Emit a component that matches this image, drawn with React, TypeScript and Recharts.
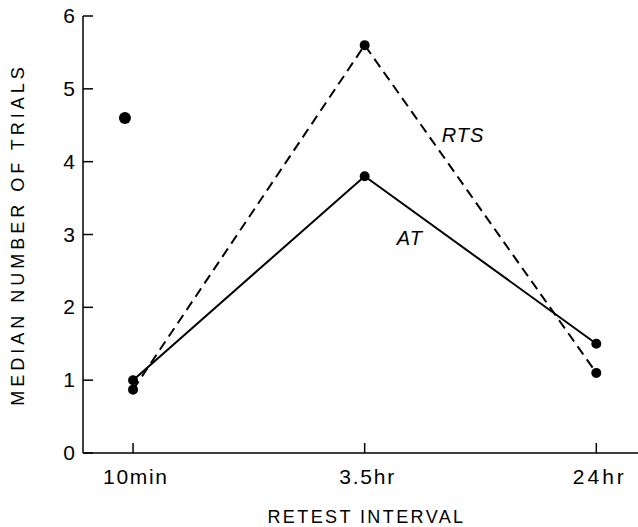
import React from "react";
import {
  ComposedChart,
  Line,
  Scatter,
  XAxis,
  YAxis,
  ReferenceDot,
} from "recharts";

// retest intervals (x positions 0, 1, 2)
const intervals = ["10min", "3.5hr", "24hr"];
const atValues = [1.0, 3.8, 1.5];
const rtsValues = [0.87, 5.6, 1.1];
// lone point drawn just left of the 10min tick
const lonePoint = [{ x: -0.035, y: 4.6 }];
const yTicks = [0, 1, 2, 3, 4, 5, 6];

const atData = intervals.map((_, i) => ({ x: i, y: atValues[i] }));
const rtsData = intervals.map((_, i) => ({ x: i, y: rtsValues[i] }));

const FONT = "'Liberation Sans', Arial, sans-serif";
// the scanned labels are set wide, stretch them to match
const tickWidths = [64, 55, 51];

function YTick(props: any) {
  const { x, y, payload } = props;
  return (
    <g>
      <line x1={x} x2={x + 10} y1={y} y2={y} stroke="#000" strokeWidth={1.5} />
      <text x={x - 8} y={y} dy={7} textAnchor="end" fontSize={21} fontFamily={FONT} fill="#000">
        {payload.value}
      </text>
    </g>
  );
}

function XTick(props: any) {
  const { x, y, payload } = props;
  return (
    <g>
      <line x1={x} x2={x} y1={y} y2={y - 10} stroke="#000" strokeWidth={1.5} />
      <text
        x={x + 2}
        y={y + 31}
        textAnchor="middle"
        fontSize={21}
        fontFamily={FONT}
        textLength={tickWidths[payload.value]}
        lengthAdjust="spacing"
        fill="#000"
      >
        {intervals[payload.value]}
      </text>
    </g>
  );
}

export default function App() {
  return (
    <div style={{ position: "absolute", left: 0, top: 0, background: "#fff" }}>
      <ComposedChart
        width={638}
        height={527}
        margin={{ top: 16, right: 0, bottom: 0, left: 0 }}
      >
        <XAxis
          type="number"
          dataKey="x"
          domain={[-0.216, 2.18]}
          ticks={[0, 1, 2]}
          allowDataOverflow
          height={74}
          tickSize={0}
          tickMargin={0}
          tick={<XTick />}
          axisLine={{ stroke: "#000", strokeWidth: 1.5 }}
          label={{
            value: "RETEST INTERVAL",
            position: "insideBottom",
            offset: 4,
            dx: 6,
            style: { fontSize: 18, fontFamily: FONT, fill: "#000", letterSpacing: 2.4 },
          }}
        />
        <YAxis
          type="number"
          dataKey="y"
          domain={[0, 6]}
          ticks={yTicks}
          interval={0}
          width={83}
          tickSize={0}
          tickMargin={0}
          tick={<YTick />}
          axisLine={{ stroke: "#000", strokeWidth: 1.5 }}
          label={{
            value: "MEDIAN NUMBER OF TRIALS",
            angle: -90,
            position: "insideLeft",
            offset: 18,
            style: { fontSize: 18, fontFamily: FONT, fill: "#000", letterSpacing: 4, textAnchor: "middle" },
          }}
        />
        <Line
          data={rtsData}
          dataKey="y"
          type="linear"
          stroke="#000"
          strokeWidth={2}
          strokeDasharray="10 6"
          dot={{ r: 4, fill: "#000", stroke: "#000", strokeDasharray: "0" }}
          isAnimationActive={false}
        />
        <Line
          data={atData}
          dataKey="y"
          type="linear"
          stroke="#000"
          strokeWidth={2}
          dot={{ r: 4, fill: "#000", stroke: "#000" }}
          isAnimationActive={false}
        />
        <Scatter
          data={lonePoint}
          dataKey="y"
          fill="#000"
          shape={(p: any) => <circle cx={p.cx} cy={p.cy} r={6} fill="#000" />}
          isAnimationActive={false}
        />
        <ReferenceDot
          x={1.425}
          y={4.37}
          r={0}
          label={{ value: "RTS", position: "center", style: { fontSize: 20, fontFamily: FONT, fontStyle: "italic", fill: "#000", letterSpacing: 1 } }}
        />
        <ReferenceDot
          x={1.195}
          y={2.95}
          r={0}
          label={{ value: "AT", position: "center", style: { fontSize: 20, fontFamily: FONT, fontStyle: "italic", fill: "#000", letterSpacing: 1 } }}
        />
      </ComposedChart>
    </div>
  );
}
